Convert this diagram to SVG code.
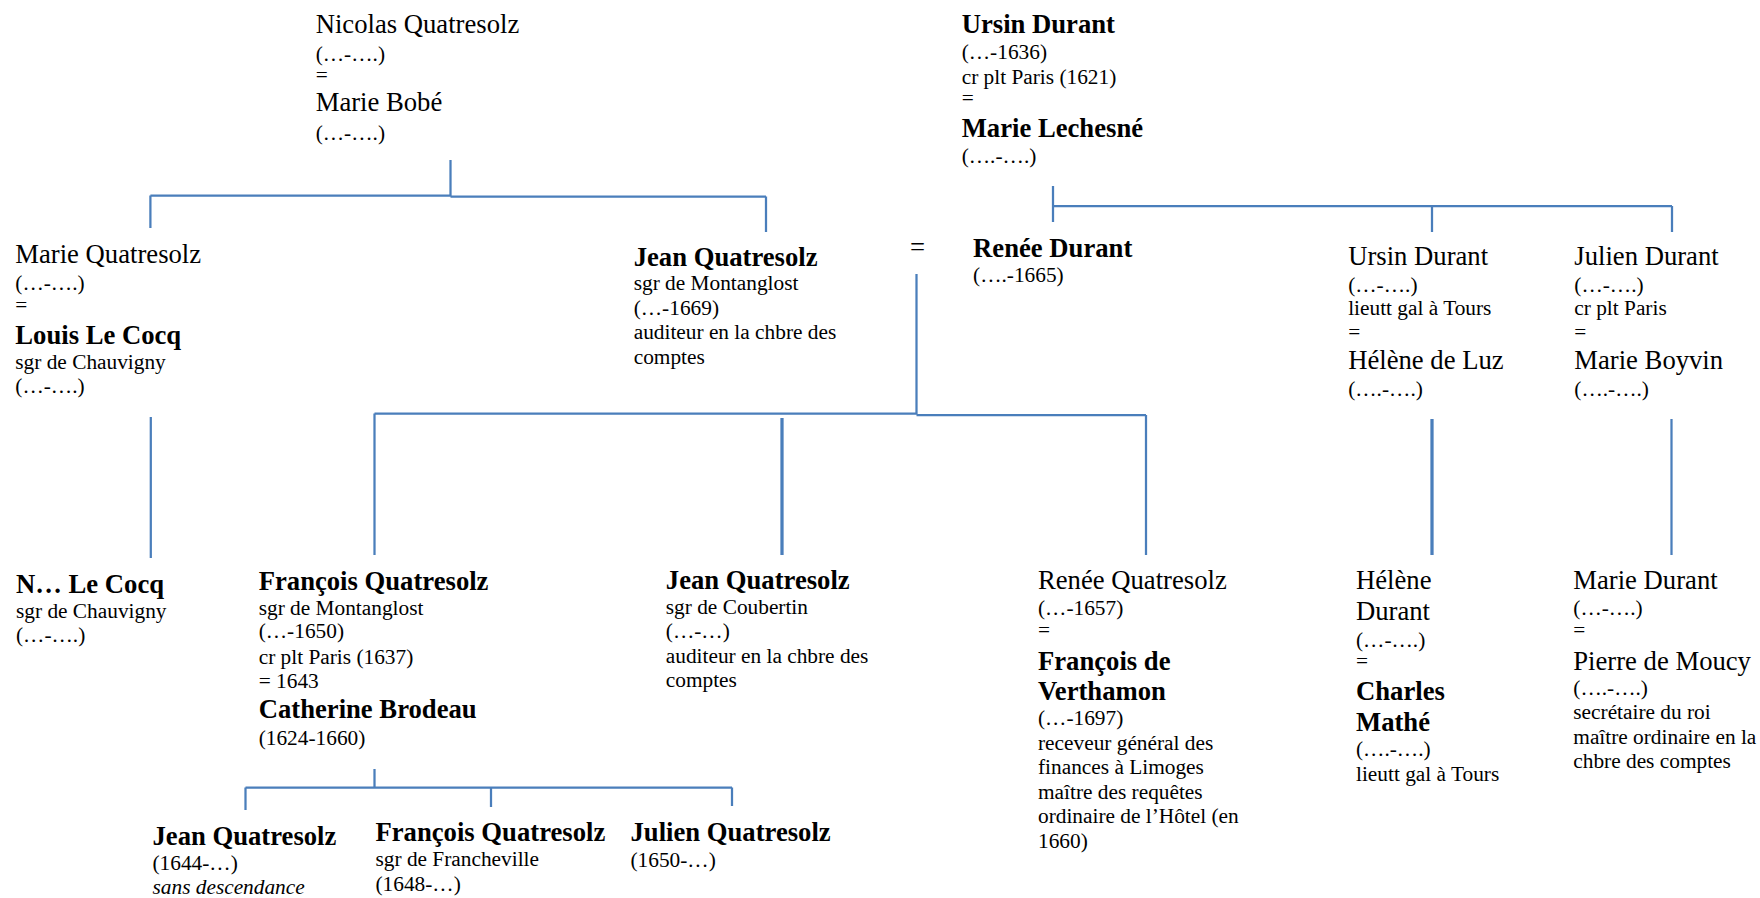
<svg xmlns="http://www.w3.org/2000/svg" width="1760" height="898" viewBox="0 0 1760 898">
<style>
text { font-family: "Liberation Serif", "Times New Roman", serif; fill: #000; }
.n { font-size: 26.67px; }
.b { font-size: 26.67px; font-weight: bold; }
.s { font-size: 21.33px; }
.i { font-size: 21.33px; font-style: italic; }
.ln { stroke: #4A7EBB; stroke-width: 2.25; fill: none; }
.thk { stroke-width: 3.25; }
</style>
<rect width="1760" height="898" fill="#fff"/>
<g id="connectors">
  <path class="ln" d="M450.5 160 V195.5 M150.4 195.5 H450.5 M450.5 196.5 H766 M150.4 195.5 V228 M766 196.5 V232"/>
  <path class="ln" d="M1053 186 V222 M1053 206 H1672 M1432 206 V232 M1672 206 V232"/>
  <path class="ln" d="M150.8 417 V558"/>
  <path class="ln" d="M916.5 274 V414 M374.5 413.5 H916.5 M916.5 415 H1146 M374.5 413.5 V555 M1146 415 V555"/>
  <path class="ln thk" d="M782 418 V555"/>
  <path class="ln thk" d="M1432 419 V555"/>
  <path class="ln" d="M1671.5 419 V555"/>
  <path class="ln" d="M374.5 769 V787.5 M245.5 787.5 H732 M245.5 787.5 V810 M491 787.5 V807 M732 787.5 V806"/>
</g>
<g id="nicolas-quatresolz">
  <text class="n" x="315.7" y="32.5">Nicolas Quatresolz</text>
  <text class="s" x="315.7" y="60.5">(…-….)</text>
  <text class="s" x="315.7" y="81.5">=</text>
  <text class="n" x="315.7" y="111">Marie Bobé</text>
  <text class="s" x="315.7" y="139.5">(…-….)</text>
</g>
<g id="ursin-durant-sr">
  <text class="b" x="961.7" y="32.5">Ursin Durant</text>
  <text class="s" x="961.7" y="58.8">(…-1636)</text>
  <text class="s" x="961.7" y="83.5">cr plt Paris (1621)</text>
  <text class="s" x="961.7" y="105">=</text>
  <text class="b" x="961.7" y="137">Marie Lechesné</text>
  <text class="s" x="961.7" y="162.5">(….-….)</text>
</g>
<g id="marie-quatresolz">
  <text class="n" x="15.3" y="262.5">Marie Quatresolz</text>
  <text class="s" x="15.3" y="289.8">(…-….)</text>
  <text class="s" x="15.3" y="311.7">=</text>
  <text class="b" x="15.3" y="344">Louis Le Cocq</text>
  <text class="s" x="15.3" y="368.7">sgr de Chauvigny</text>
  <text class="s" x="15.3" y="392.5">(…-….)</text>
</g>
<g id="jean-quatresolz-montanglost">
  <text class="b" x="633.7" y="265.5">Jean Quatresolz</text>
  <text class="s" x="633.7" y="290.2">sgr de Montanglost</text>
  <text class="s" x="633.7" y="315">(…-1669)</text>
  <text class="s" x="633.7" y="339.4">auditeur en la chbre des</text>
  <text class="s" x="633.7" y="363.7">comptes</text>
</g>
<g id="marriage-sign">
  <text class="n" x="910" y="256">=</text>
</g>
<g id="renee-durant">
  <text class="b" x="973.1" y="256.5">Renée Durant</text>
  <text class="s" x="973.1" y="281.6">(….-1665)</text>
</g>
<g id="ursin-durant-jr">
  <text class="n" x="1348.2" y="265">Ursin Durant</text>
  <text class="s" x="1348.2" y="291.6">(…-….)</text>
  <text class="s" x="1348.2" y="315">lieutt gal à Tours</text>
  <text class="s" x="1348.2" y="339">=</text>
  <text class="n" x="1348.2" y="369">Hélène de Luz</text>
  <text class="s" x="1348.2" y="395.5">(….-….)</text>
</g>
<g id="julien-durant">
  <text class="n" x="1574.3" y="265">Julien Durant</text>
  <text class="s" x="1574.3" y="291.6">(…-….)</text>
  <text class="s" x="1574.3" y="315">cr plt Paris</text>
  <text class="s" x="1574.3" y="339">=</text>
  <text class="n" x="1574.3" y="369">Marie Boyvin</text>
  <text class="s" x="1574.3" y="395.5">(….-….)</text>
</g>
<g id="n-le-cocq">
  <text class="b" x="16" y="592.5">N… Le Cocq</text>
  <text class="s" x="16" y="617.5">sgr de Chauvigny</text>
  <text class="s" x="16" y="642">(…-….)</text>
</g>
<g id="francois-quatresolz-montanglost">
  <text class="b" x="258.7" y="590">François Quatresolz</text>
  <text class="s" x="258.7" y="614.5">sgr de Montanglost</text>
  <text class="s" x="258.7" y="638.3">(…-1650)</text>
  <text class="s" x="258.7" y="663.5">cr plt Paris (1637)</text>
  <text class="s" x="258.7" y="688.2">= 1643</text>
  <text class="b" x="258.7" y="717.7">Catherine Brodeau</text>
  <text class="s" x="258.7" y="744.5">(1624-1660)</text>
</g>
<g id="jean-quatresolz-coubertin">
  <text class="b" x="665.8" y="588.5">Jean Quatresolz</text>
  <text class="s" x="665.8" y="614">sgr de Coubertin</text>
  <text class="s" x="665.8" y="638.3">(…-…)</text>
  <text class="s" x="665.8" y="663.3">auditeur en la chbre des</text>
  <text class="s" x="665.8" y="687">comptes</text>
</g>
<g id="renee-quatresolz">
  <text class="n" x="1038" y="588.7">Renée Quatresolz</text>
  <text class="s" x="1038" y="615">(…-1657)</text>
  <text class="s" x="1038" y="637">=</text>
  <text class="b" x="1038" y="670">François de</text>
  <text class="b" x="1038" y="700">Verthamon</text>
  <text class="s" x="1038" y="724.5">(…-1697)</text>
  <text class="s" x="1038" y="749.5">receveur général des</text>
  <text class="s" x="1038" y="774">finances à Limoges</text>
  <text class="s" x="1038" y="798.5">maître des requêtes</text>
  <text class="s" x="1038" y="823">ordinaire de l’Hôtel (en</text>
  <text class="s" x="1038" y="847.5">1660)</text>
</g>
<g id="helene-durant">
  <text class="n" x="1356" y="589">Hélène</text>
  <text class="n" x="1356" y="620">Durant</text>
  <text class="s" x="1356" y="646.6">(…-….)</text>
  <text class="s" x="1356" y="668">=</text>
  <text class="b" x="1356" y="700">Charles</text>
  <text class="b" x="1356" y="731">Mathé</text>
  <text class="s" x="1356" y="756">(….-….)</text>
  <text class="s" x="1356" y="780.5">lieutt gal à Tours</text>
</g>
<g id="marie-durant">
  <text class="n" x="1573.3" y="588.7">Marie Durant</text>
  <text class="s" x="1573.3" y="615">(…-….)</text>
  <text class="s" x="1573.3" y="637">=</text>
  <text class="n" x="1573.3" y="670">Pierre de Moucy</text>
  <text class="s" x="1573.3" y="695">(….-….)</text>
  <text class="s" x="1573.3" y="719">secrétaire du roi</text>
  <text class="s" x="1573.3" y="743.5">maître ordinaire en la</text>
  <text class="s" x="1573.3" y="768">chbre des comptes</text>
</g>
<g id="jean-quatresolz-1644">
  <text class="b" x="152.5" y="844.5">Jean Quatresolz</text>
  <text class="s" x="152.5" y="870">(1644-…)</text>
  <text class="i" x="152.5" y="893.5">sans descendance</text>
</g>
<g id="francois-quatresolz-1648">
  <text class="b" x="375.5" y="840.5">François Quatresolz</text>
  <text class="s" x="375.5" y="865.5">sgr de Francheville</text>
  <text class="s" x="375.5" y="890.5">(1648-…)</text>
</g>
<g id="julien-quatresolz-1650">
  <text class="b" x="630.5" y="840.5">Julien Quatresolz</text>
  <text class="s" x="630.5" y="866.5">(1650-…)</text>
</g>
</svg>
